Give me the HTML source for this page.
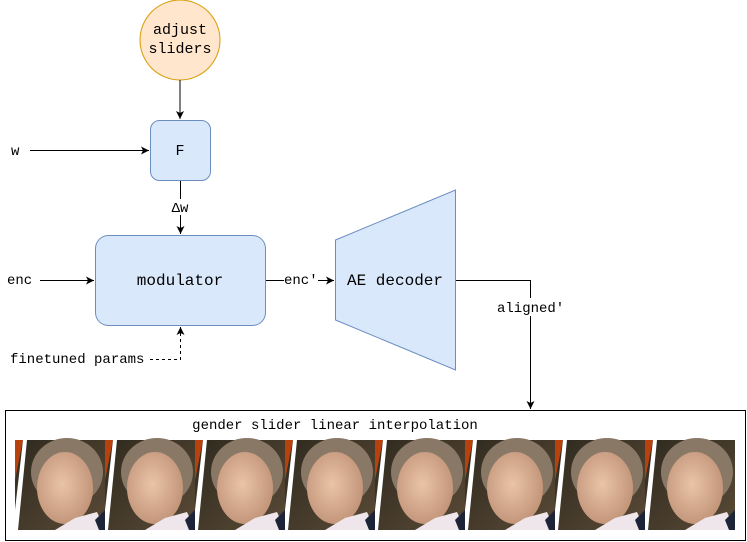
<!DOCTYPE html>
<html><head><meta charset="utf-8"><style>
html,body{margin:0;padding:0;background:#fff;}
svg{display:block;}
text{font-family:"Liberation Mono",monospace;fill:#000;}
</style></head><body>
<svg width="747" height="542" viewBox="0 0 747 542" xmlns="http://www.w3.org/2000/svg">
<defs>
<marker id="ah" markerWidth="10" markerHeight="10" refX="8" refY="4" orient="auto" markerUnits="userSpaceOnUse">
<path d="M0,0 L8,4 L0,8 L2,4 z" fill="#000"/>
</marker>
<linearGradient id="bg" x1="0" y1="0" x2="1" y2="1"><stop offset="0" stop-color="#2f2a1f"/><stop offset="1" stop-color="#5a4a36"/></linearGradient>
<radialGradient id="skin" cx="0.45" cy="0.45" r="0.6"><stop offset="0" stop-color="#eac4a8"/><stop offset="1" stop-color="#c09276"/></radialGradient>
<g id="tile">
<rect x="0" y="0" width="90" height="90" fill="url(#bg)"/>
<polygon points="0,0 8,0 0,40" fill="#b8420e"/>
<polygon points="8,0 12,0 3,90 0,90 0,70" fill="#fff"/>
<ellipse cx="52" cy="32" rx="36" ry="34" fill="#8a7866"/>
<ellipse cx="50" cy="48" rx="28" ry="36" fill="url(#skin)"/>
<polygon points="40,90 60,78 82,72 90,90" fill="#eee6ea"/>
<polygon points="80,80 90,70 90,90 84,90" fill="#1e2438"/>
</g>
</defs>

<circle cx="180" cy="40" r="40" fill="#ffe6cc" stroke="#d79b00"/>
<text x="180" y="34" text-anchor="middle" style="font-size:15px">adjust</text>
<text x="180" y="53" text-anchor="middle" style="font-size:15px">sliders</text>
<line x1="180" y1="80" x2="180" y2="119" stroke="#000" marker-end="url(#ah)"/>

<rect x="150.5" y="120.5" width="60" height="60" rx="9" fill="#dae8fc" stroke="#6c8ebf"/>
<text x="180" y="155" text-anchor="middle" style="font-size:15px">F</text>
<text x="11" y="155" style="font-size:14px">w</text>
<line x1="30" y1="150.5" x2="149" y2="150.5" stroke="#000" marker-end="url(#ah)"/>

<line x1="180.5" y1="181" x2="180.5" y2="234" stroke="#000" marker-end="url(#ah)"/>
<rect x="171" y="199" width="20" height="16" fill="#fff"/>
<text x="180" y="212" text-anchor="middle" style="font-size:14px">Δw</text>

<rect x="95.5" y="235.5" width="170" height="90" rx="13" fill="#dae8fc" stroke="#6c8ebf"/>
<text x="180" y="285" text-anchor="middle" style="font-size:16px">modulator</text>
<text x="7" y="284" style="font-size:14px">enc</text>
<line x1="40" y1="280.5" x2="94" y2="280.5" stroke="#000" marker-end="url(#ah)"/>
<line x1="266" y1="280.5" x2="334" y2="280.5" stroke="#000" marker-end="url(#ah)"/>
<rect x="284" y="272" width="34" height="16" fill="#fff"/>
<text x="284" y="284" style="font-size:14px">enc'</text>
<text x="10" y="363" style="font-size:14px">finetuned params</text>
<path d="M150,359.5 H180.5 V327" fill="none" stroke="#000" stroke-dasharray="3,3" marker-end="url(#ah)"/>

<polygon points="335.5,240 455.5,190 455.5,370 335.5,320" fill="#dae8fc" stroke="#6c8ebf"/>
<text x="395" y="285" text-anchor="middle" style="font-size:16px">AE decoder</text>
<path d="M456,280.5 H530.5 V409" fill="none" stroke="#000" marker-end="url(#ah)"/>
<rect x="496" y="298" width="68" height="18" fill="#fff"/>
<text x="497" y="312" style="font-size:14px">aligned'</text>

<rect x="5.5" y="410.5" width="740" height="130" fill="#fff" stroke="#000"/>
<text x="335" y="429" text-anchor="middle" style="font-size:14px">gender slider linear interpolation</text>
<use href="#tile" x="15" y="440"/>
<use href="#tile" x="105" y="440"/>
<use href="#tile" x="195" y="440"/>
<use href="#tile" x="285" y="440"/>
<use href="#tile" x="375" y="440"/>
<use href="#tile" x="465" y="440"/>
<use href="#tile" x="555" y="440"/>
<use href="#tile" x="645" y="440"/>
</svg>
</body></html>
